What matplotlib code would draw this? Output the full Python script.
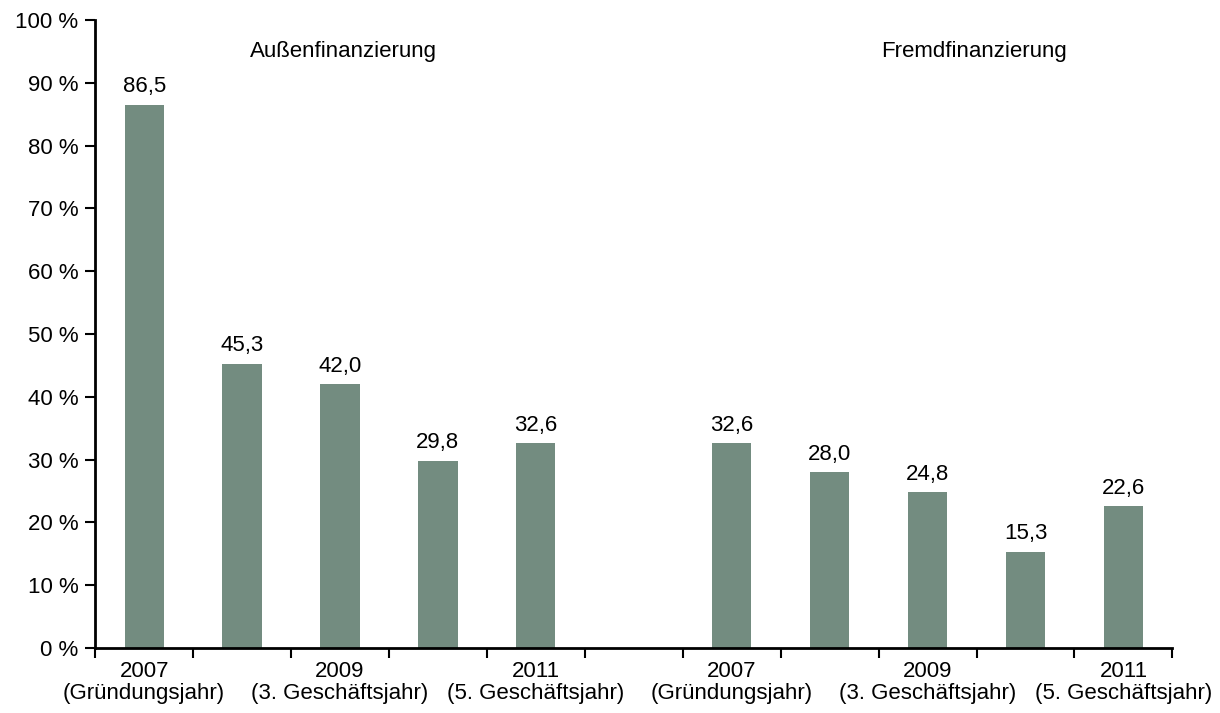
import matplotlib
matplotlib.use("Agg")
import matplotlib.pyplot as plt
import numpy as np

# Werte aus der Grafik
aussen = [86.5, 45.3, 42.0, 29.8, 32.6]
fremd = [32.6, 28.0, 24.8, 15.3, 22.6]
group_titles = ["Außenfinanzierung", "Fremdfinanzierung"]
tick_labels = ["2007\n(Gründungsjahr)", "2009\n(3. Geschäftsjahr)", "2011\n(5. Geschäftsjahr)"]

plt.rcParams["font.family"] = ["Liberation Sans", "DejaVu Sans"]
plt.rcParams["font.size"] = 16

values = aussen + [np.nan] + fremd
x = np.arange(len(values))

fig = plt.figure(figsize=(12.2, 7.13), dpi=100)
ax = fig.add_axes([0.078, 0.091, 0.883, 0.881])

bar_color = "#738c80"
ax.bar(x, np.nan_to_num(values), width=0.4, color=bar_color)

for xi, v in zip(x, values):
    if not np.isnan(v):
        ax.text(xi, v + 1.2, f"{v:.1f}".replace(".", ","), ha="center", va="bottom")

ax.set_xlim(-0.5, len(values) - 0.5)
ax.set_ylim(0, 100)
ax.set_yticks(np.arange(0, 101, 10))
ax.set_yticklabels([f"{t} %" for t in range(0, 101, 10)])

label_pos = [0, 2, 4, 6, 8, 10]
ax.set_xticks(label_pos)
ax.set_xticklabels(tick_labels * 2, linespacing=1.1)
ax.tick_params(axis="x", which="major", length=0, pad=9)
ax.set_xticks(np.arange(-0.5, len(values), 1), minor=True)
ax.tick_params(axis="x", which="minor", length=7, width=1.5, direction="out")
ax.tick_params(axis="y", length=7, width=1.5, direction="out", pad=5)

for s in ["top", "right"]:
    ax.spines[s].set_visible(False)
for s in ["left", "bottom"]:
    ax.spines[s].set_linewidth(2)

ax.text(2.04, 95, group_titles[0], ha="center", va="center")
ax.text(8.47, 95, group_titles[1], ha="center", va="center")

fig.savefig("out.png", dpi=100)
